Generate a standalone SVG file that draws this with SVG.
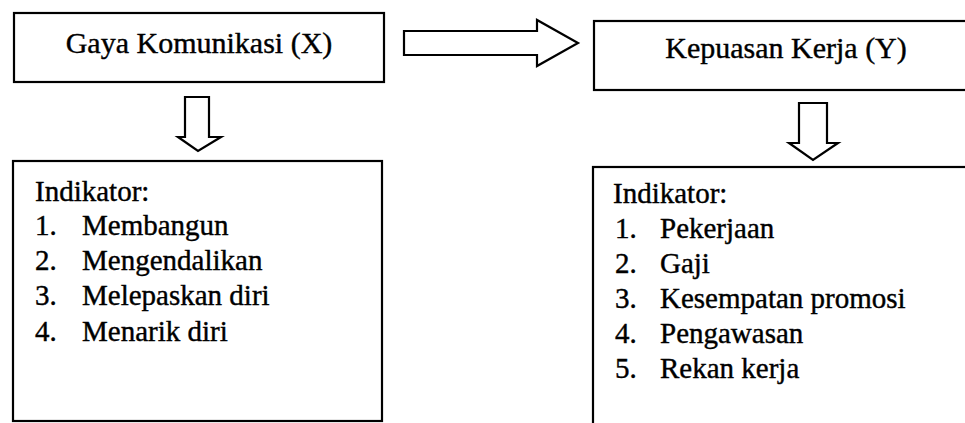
<svg xmlns="http://www.w3.org/2000/svg" width="965" height="423" viewBox="0 0 965 423">
  <style>
    .box { fill: #ffffff; stroke: #000000; stroke-width: 2.2; }
    .arrow { fill: #ffffff; stroke: #000000; stroke-width: 2.2; stroke-linejoin: miter; }
    .title { font-family: "Liberation Serif", "Times New Roman", serif; font-size: 30px; fill: #000000; stroke: #000000; stroke-width: 0.4; }
    .item { font-family: "Liberation Serif", "Times New Roman", serif; font-size: 29px; fill: #000000; stroke: #000000; stroke-width: 0.4; }
  </style>
  <rect x="0" y="0" width="965" height="423" fill="#ffffff"/>

  <g id="node-gaya-komunikasi">
    <rect class="box" x="14" y="13" width="370" height="69"/>
    <text class="title" x="199" y="53" text-anchor="middle">Gaya Komunikasi (X)</text>
  </g>

  <g id="node-kepuasan-kerja">
    <rect class="box" x="594" y="21" width="400" height="69"/>
    <text class="title" x="786" y="58" text-anchor="middle">Kepuasan Kerja (Y)</text>
  </g>

  <g id="node-indikator-x">
    <rect class="box" x="13" y="161" width="369" height="260"/>
    <text class="item" x="35" y="201">Indikator:</text>
    <text class="item" x="35" y="235">1.</text><text class="item" x="82" y="235">Membangun</text>
    <text class="item" x="35" y="270">2.</text><text class="item" x="82" y="270">Mengendalikan</text>
    <text class="item" x="35" y="305">3.</text><text class="item" x="82" y="305">Melepaskan diri</text>
    <text class="item" x="35" y="341">4.</text><text class="item" x="82" y="341">Menarik diri</text>
  </g>

  <g id="node-indikator-y">
    <rect class="box" x="593" y="167" width="400" height="280"/>
    <text class="item" x="613" y="203">Indikator:</text>
    <text class="item" x="615" y="238">1.</text><text class="item" x="660" y="238">Pekerjaan</text>
    <text class="item" x="615" y="273">2.</text><text class="item" x="660" y="273">Gaji</text>
    <text class="item" x="615" y="308">3.</text><text class="item" x="660" y="308">Kesempatan promosi</text>
    <text class="item" x="615" y="343">4.</text><text class="item" x="660" y="343">Pengawasan</text>
    <text class="item" x="615" y="378">5.</text><text class="item" x="660" y="378">Rekan kerja</text>
  </g>

  <g id="connectors">
    <polygon class="arrow" points="404,31 537,31 537,20 578,43 537,66 537,55 404,55"/>
    <polygon class="arrow" points="185,97 209,97 209,137 221,137 198,151 178,137 185,137"/>
    <polygon class="arrow" points="799,103 827,103 827,143 838,143 813,160 789,143 799,143"/>
  </g>
</svg>
